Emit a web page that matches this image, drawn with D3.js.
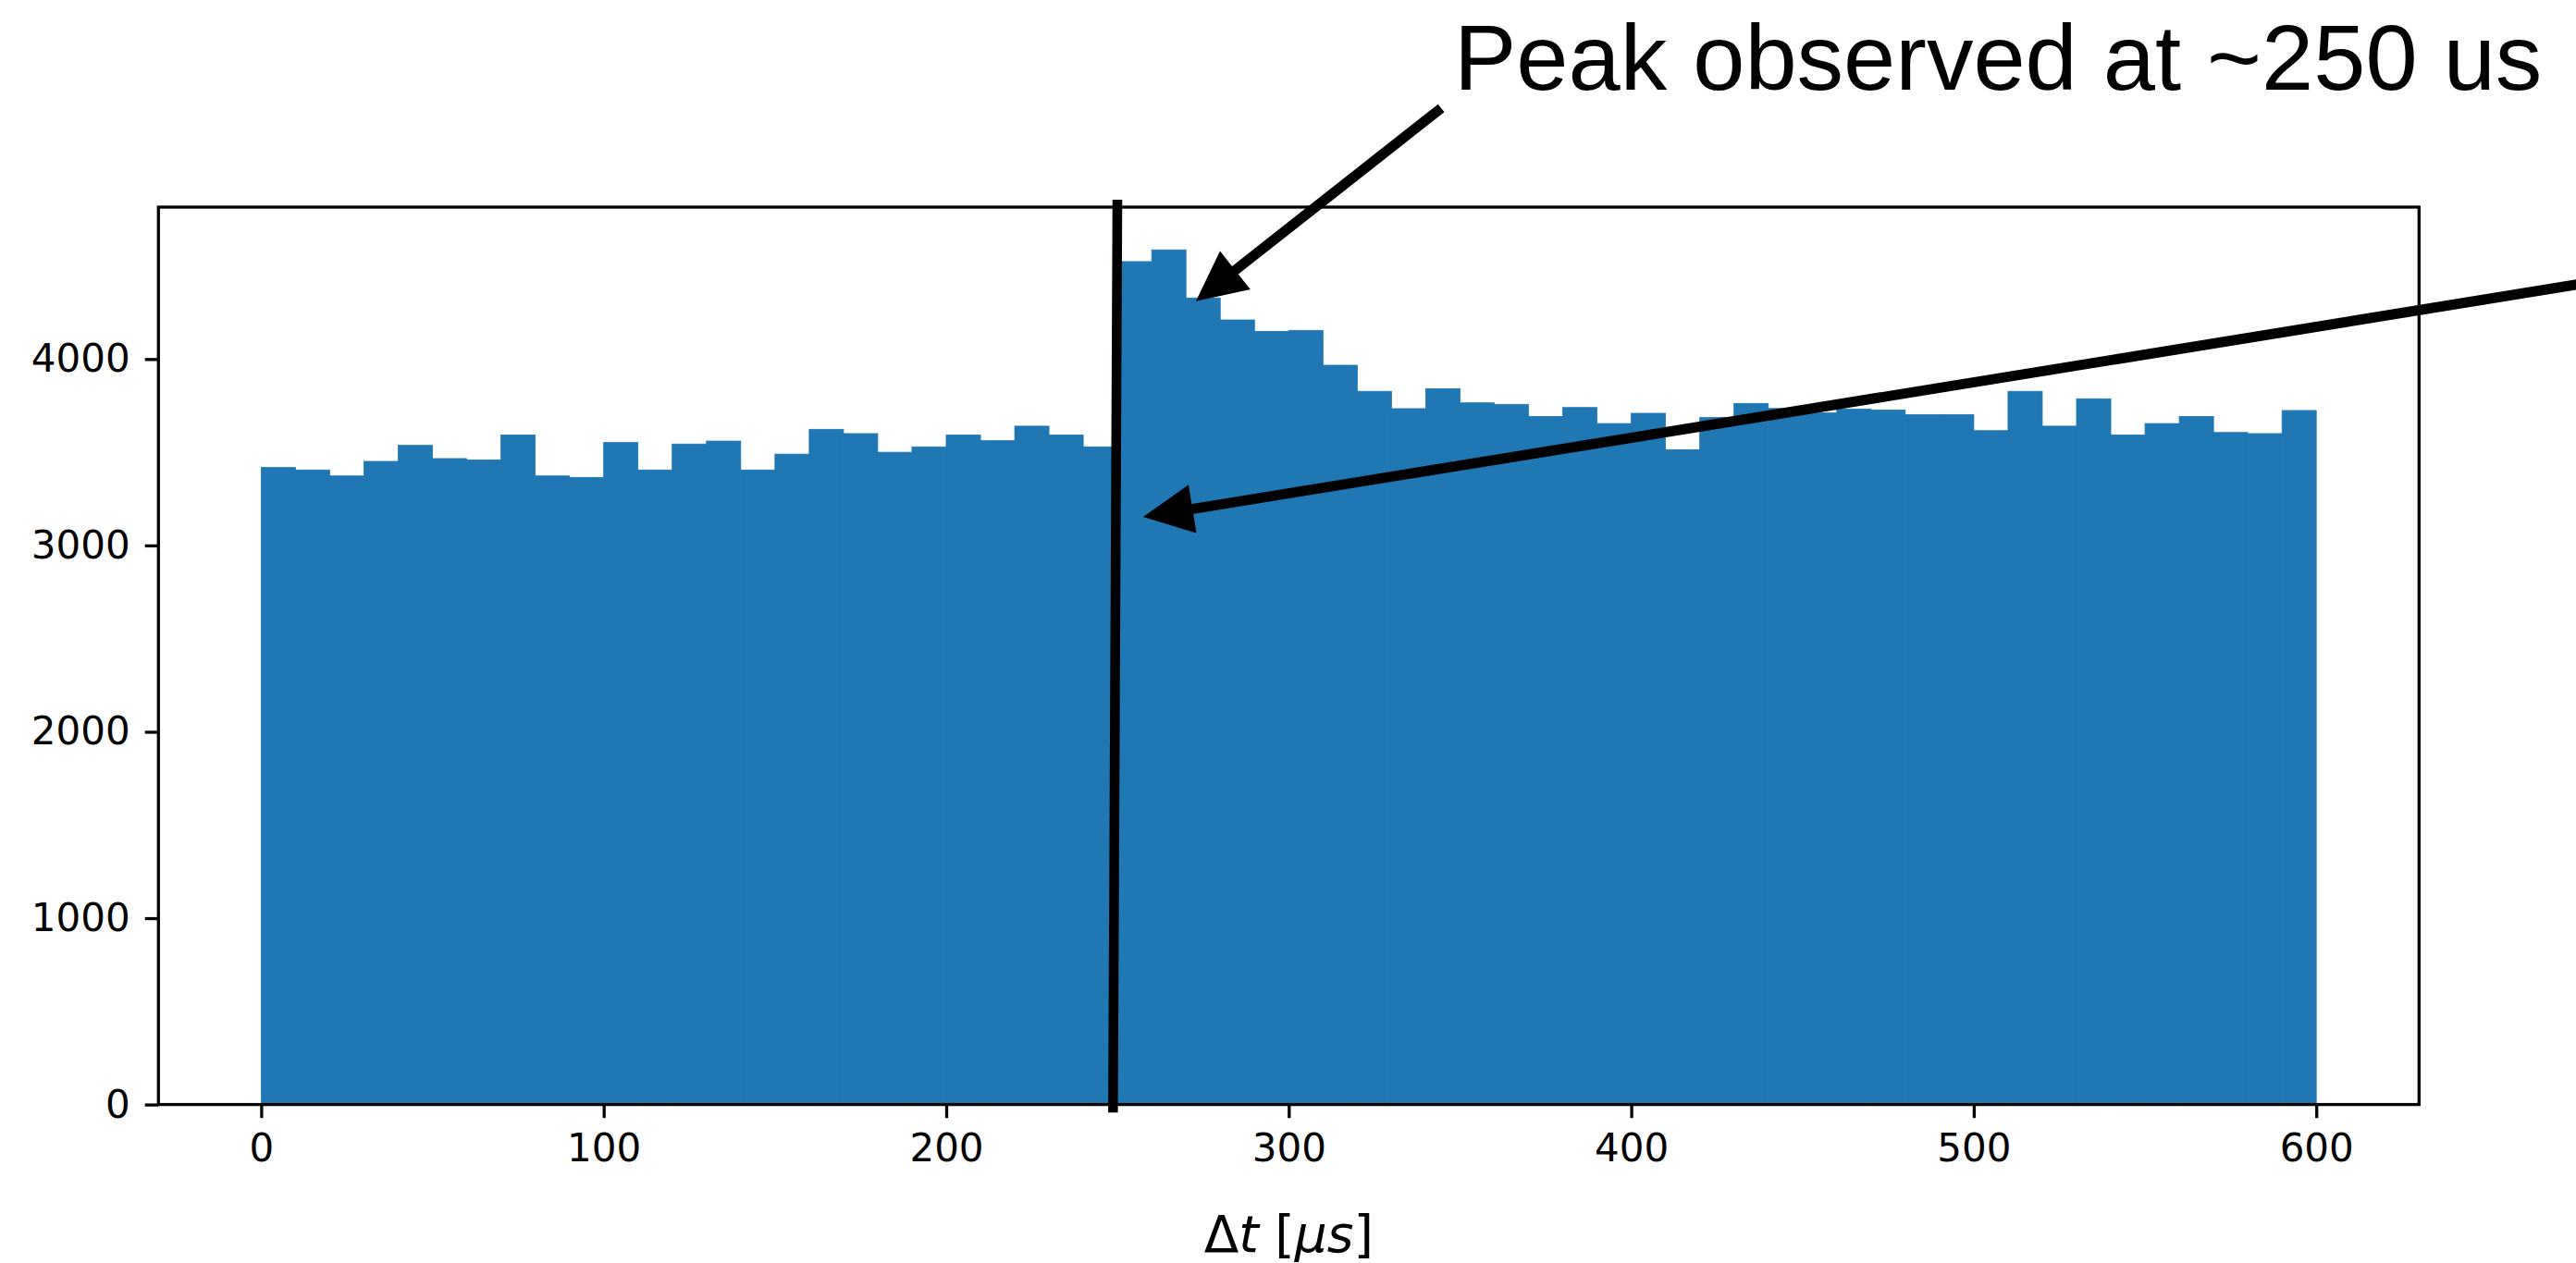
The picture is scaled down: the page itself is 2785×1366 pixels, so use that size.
<!DOCTYPE html>
<html>
<head>
<meta charset="utf-8">
<script src="https://cdn.jsdelivr.net/npm/d3@7"></script>
<style>
  body { margin: 0; background: #fff; }
  svg { display: block; }
</style>
</head>
<body>
<div id="chart"></div>
<script>
// counts per 10 us bin, 0 .. 600
const binEdges = d3.range(0, 601, 10);
const counts = [3418, 3405, 3373, 3451, 3537, 3466, 3459, 3593, 3373, 3365,
  3552, 3405, 3544, 3560, 3405, 3490, 3623, 3600, 3500, 3529,
  3593, 3562, 3640, 3593, 3529, 4523, 4586, 4328, 4210, 4149,
  4154, 3967, 3827, 3734, 3841, 3765, 3757, 3692, 3740, 3654,
  3709, 3514, 3686, 3762, 3735, 3711, 3732, 3727, 3702, 3702,
  3616, 3827, 3640, 3787, 3593, 3654, 3692, 3606, 3600, 3724];
const xTicks = [0, 100, 200, 300, 400, 500, 600];
const yTicks = [0, 1000, 2000, 3000, 4000];
const annotationText = 'Peak observed at ~250 us';

// annotation positions in data units
const peakLine = [[249.96, 4855], [248.7, -43]];
const arrows = [
  { from: [344.5, 5346], to: [272.9, 4311] },
  { from: [679.9, 4411], to: [257.5, 3153] },
];

const width = 2785;
const height = 1366;
const area = { left: 171.3, right: 2615.3, top: 224, bottom: 1194.6 };

const bins = counts.map((c, i) => ({ x0: binEdges[i], x1: binEdges[i + 1], count: c }));

const svg = d3.select('#chart')
  .append('svg')
  .attr('width', width)
  .attr('height', height)
  .attr('viewBox', `0 0 ${width} ${height}`);

// matplotlib-style 5% margins
const xScale = d3.scaleLinear()
  .domain([-30, 630])
  .range([area.left, area.right]);

const yScale = d3.scaleLinear()
  .domain([0, d3.max(counts) * 1.05])
  .range([area.bottom, area.top]);

// bars (a thin same-colour stroke hides the seams between neighbours)
svg.append('g')
  .attr('class', 'bars')
  .selectAll('rect')
  .data(bins)
  .join('rect')
  .attr('x', (d) => xScale(d.x0))
  .attr('y', (d) => yScale(d.count))
  .attr('width', (d) => xScale(d.x1) - xScale(d.x0))
  .attr('height', (d) => yScale(0) - yScale(d.count))
  .attr('fill', '#1f77b4')
  .attr('stroke', '#1f77b4')
  .attr('stroke-width', 0.8);

// axes
const tickFont = (g) => g
  .attr('font-family', '"DejaVu Sans", sans-serif')
  .attr('font-size', 42)
  .call((g) => g.select('.domain').remove())
  .call((g) => g.selectAll('.tick line').attr('stroke', '#000').attr('stroke-width', 3.3))
  .call((g) => g.selectAll('.tick text').attr('fill', '#000'));

svg.append('g')
  .attr('transform', `translate(0, ${area.bottom})`)
  .call(d3.axisBottom(xScale).tickValues(xTicks).tickSize(14.6).tickPadding(17).tickFormat(d3.format('d')))
  .call(tickFont);

svg.append('g')
  .attr('transform', `translate(${area.left}, 0)`)
  .call(d3.axisLeft(yScale).tickValues(yTicks).tickSize(14.6).tickPadding(16).tickFormat(d3.format('d')))
  .call(tickFont);

// frame
svg.append('rect')
  .attr('x', area.left)
  .attr('y', area.top)
  .attr('width', area.right - area.left)
  .attr('height', area.bottom - area.top)
  .attr('fill', 'none')
  .attr('stroke', '#000')
  .attr('stroke-width', 3.3);

// x label: Δt [μs]
const label = svg.append('text')
  .attr('x', (area.left + area.right) / 2)
  .attr('y', 1354)
  .attr('text-anchor', 'middle')
  .attr('font-family', '"DejaVu Sans", sans-serif')
  .attr('font-size', 55)
  .attr('fill', '#000');
label.append('tspan').text('Δ');
label.append('tspan').attr('font-style', 'italic').text('t');
label.append('tspan').text(' [');
label.append('tspan').attr('font-style', 'italic').text('μs');
label.append('tspan').text(']');

// annotations
const notes = svg.append('g').attr('class', 'annotations');

notes.append('line')
  .attr('x1', xScale(peakLine[0][0]))
  .attr('y1', yScale(peakLine[0][1]))
  .attr('x2', xScale(peakLine[1][0]))
  .attr('y2', yScale(peakLine[1][1]))
  .attr('stroke', '#000')
  .attr('stroke-width', 10.5);

const headLen = 54;
const headHalf = 26.5;

arrows.forEach((a) => {
  const x1 = xScale(a.from[0]), y1 = yScale(a.from[1]);
  const x2 = xScale(a.to[0]), y2 = yScale(a.to[1]);
  const len = Math.hypot(x2 - x1, y2 - y1);
  const ux = (x2 - x1) / len, uy = (y2 - y1) / len;
  const bx = x2 - ux * headLen, by = y2 - uy * headLen;

  notes.append('line')
    .attr('x1', x1).attr('y1', y1)
    .attr('x2', bx + ux * 4).attr('y2', by + uy * 4)
    .attr('stroke', '#000')
    .attr('stroke-width', 11);

  notes.append('path')
    .attr('d', `M${x2},${y2}L${bx - uy * headHalf},${by + ux * headHalf}L${bx + uy * headHalf},${by - ux * headHalf}Z`)
    .attr('fill', '#000');
});

notes.append('text')
  .attr('x', 1572)
  .attr('y', 97)
  .attr('font-family', '"Liberation Sans", Arial, Helvetica, sans-serif')
  .attr('font-size', 101)
  .attr('fill', '#000')
  .text(annotationText);
</script>
</body>
</html>
